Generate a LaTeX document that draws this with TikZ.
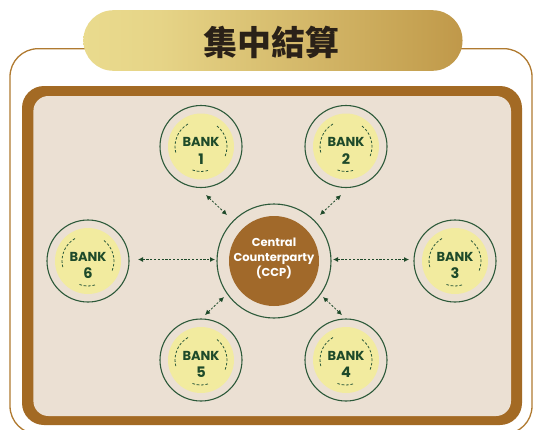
\documentclass[tikz,border=0pt]{standalone}
\usepackage{fontspec}
\newfontfamily\pop{Poppins}
\newfontfamily\cjk{Noto Sans CJK TC}
\usetikzlibrary{arrows.meta,calc}
\definecolor{frbrown}{HTML}{A36A24}
\definecolor{beige}{HTML}{EBE0D3}
\definecolor{thinbrown}{HTML}{B07A30}
\definecolor{byellow}{HTML}{F2EB9F}
\definecolor{dgreen}{HTML}{1E4A2A}
\definecolor{ringgreen}{HTML}{2D5A3A}
\definecolor{ccpbrown}{HTML}{A1692A}
\definecolor{tA}{HTML}{F3EC9F}
\definecolor{tB}{HTML}{E6D487}
\definecolor{tC}{HTML}{C5A151}
\definecolor{tD}{HTML}{A56A25}
\definecolor{titletext}{HTML}{2A2118}
\pgfdeclarehorizontalshading{titleshade}{100bp}{color(0bp)=(tA); color(35bp)=(tB); color(70bp)=(tC); color(100bp)=(tD)}
\tikzset{
  bankring/.style={circle, draw=ringgreen, line width=1.1pt, minimum size=82pt, inner sep=0pt},
  ccpring/.style={circle, draw=ringgreen, line width=1.1pt, minimum size=114pt, inner sep=0pt},
  dasharc/.style={draw=ringgreen, line width=0.8pt, dash pattern=on 2.6pt off 1.8pt},
  banktxt/.style={text=dgreen, font=\pop\bfseries\fontsize{13}{15}\selectfont, inner sep=0pt},
  banknum/.style={text=dgreen, font=\pop\bfseries\fontsize{14.5}{16}\selectfont, inner sep=0pt},
  conn/.style={draw=dgreen, line width=0.8pt, dash pattern=on 2.2pt off 1.6pt,
    {Latex[length=5pt,width=5pt]}-{Latex[length=5pt,width=5pt]}},
}
\newcommand\mybank[3]{%
  \node[bankring] (#1) at (#2) {};
  \fill[byellow] (#1.center) circle[radius=33pt];
  \draw[dasharc] ($(#1.center)+(120:26)$) arc[start angle=120, end angle=195, radius=26];
  \draw[dasharc] ($(#1.center)+(52:26)$) arc[start angle=52, end angle=-22, radius=26];
  \draw[dasharc] ($(#1.center)+(250:25)$) arc[start angle=250, end angle=288, radius=25];
  \node[banktxt] (#1t) at ($(#1.center)+(0,4.5)$) {BANK};
  \node[banknum] (#1n) at ($(#1.center)+(0,-12.5)$) {#3};
}
\begin{document}
\begin{tikzpicture}[x=1pt,y=1pt]
\useasboundingbox (0,0) rectangle (534,-429);
\clip (0,0) rectangle (534,-429);
\fill[white] (0,0) rectangle (534,-429);
% outer thin frame
\draw[thinbrown, line width=1.3pt, rounded corners=28] (10,-48.7) rectangle (532,-434);
% title pill
\shade[shading=titleshade, rounded corners=30] (83.4,-10.2) rectangle (462.5,-70.8);
\node[text=titletext, font=\cjk\bfseries\fontsize{34}{36}\selectfont, inner sep=0pt] (title) at (271,-42) {集中結算};
% brown frame and beige panel
\fill[frbrown, rounded corners=22] (22,-86) rectangle (522,-425);
\fill[beige, rounded corners=15] (33.4,-96) rectangle (511,-416);
% CCP
\node[ccpring] (ccp) at (274,-261) {};
\fill[ccpbrown] (ccp.center) circle[radius=45pt];
\node[text=white, font=\pop\bfseries\fontsize{11.5}{15}\selectfont, align=center, inner sep=0pt] (ccpt) at (274,-258) {Central\\Counterparty\\(CCP)};
% banks
\mybank{b1}{201,-146.5}{1}
\mybank{b2}{346,-146.5}{2}
\mybank{b6}{88,-261}{6}
\mybank{b3}{455,-261}{3}
\mybank{b5}{201,-360}{5}
\mybank{b4}{346,-360}{4}
% connector ends
\coordinate (a1s) at (206,-195);  \coordinate (a1e) at (227,-215);
\coordinate (a2s) at (341,-195);  \coordinate (a2e) at (320,-215);
\coordinate (a6s) at (138,-259.5);\coordinate (a6e) at (215,-259.5);
\coordinate (a3s) at (409,-259.5);\coordinate (a3e) at (333,-259.5);
\coordinate (a5s) at (205,-315);  \coordinate (a5e) at (224,-297);
\coordinate (a4s) at (342,-315);  \coordinate (a4e) at (323,-297);
\draw[conn] (a1s) -- (a1e);
\draw[conn] (a2s) -- (a2e);
\draw[conn] (a6s) -- (a6e);
\draw[conn] (a3s) -- (a3e);
\draw[conn] (a5s) -- (a5e);
\draw[conn] (a4s) -- (a4e);
\end{tikzpicture}
\end{document}
